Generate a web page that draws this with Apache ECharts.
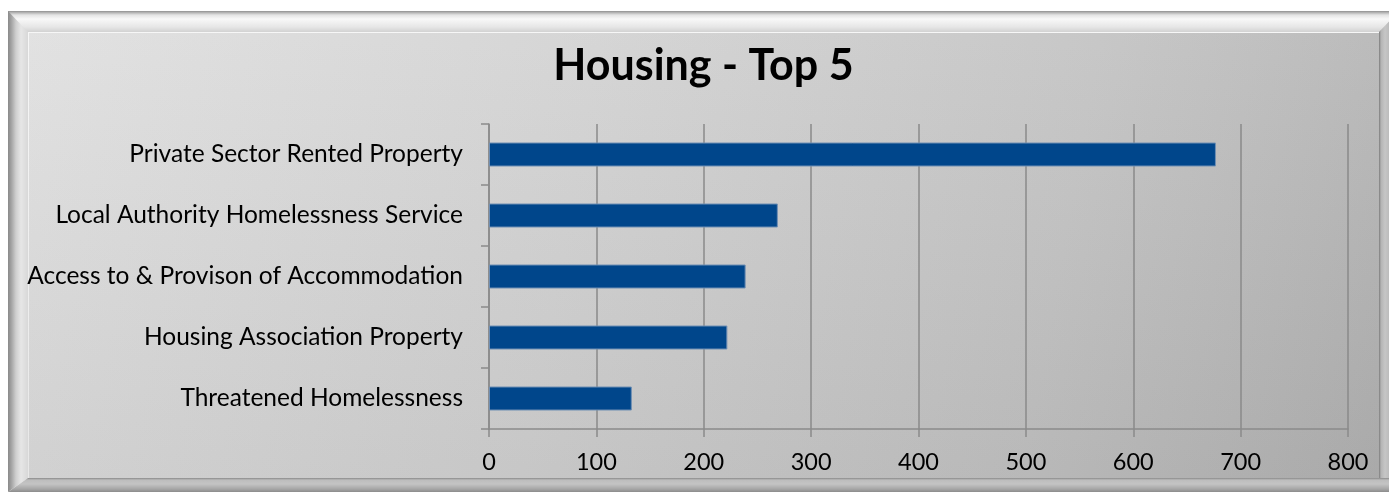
<!DOCTYPE html>
<html>
<head>
<meta charset="utf-8">
<script src="https://cdn.jsdelivr.net/npm/echarts@6/dist/echarts.min.js"></script>
<style>
  html, body { margin: 0; padding: 0; width: 1389px; height: 492px; overflow: hidden; background: #ffffff; position: relative; }
  .bevel { position: absolute; }
  #frameTop { left: 8px; top: 11px; width: 1400px; height: 21px;
    background: linear-gradient(to bottom, #8e8e8e 0px, #a8a8a8 1px, #e4e4e4 4px, #f8f8f8 8px, #e6e6e6 16px, #d2d2d2 21px); }
  #frameLeft { left: 8px; top: 11px; width: 20px; height: 500px;
    background: linear-gradient(to right, #8a8a8a 0px, #a0a0a0 3px, #cfcfcf 8px, #e6e6e6 13px, #d8d8d8 20px);
    clip-path: polygon(0 0, 100% 21px, 100% 467px, 0 481px); }
  #frameRight { left: 1379px; top: 11px; width: 20px; height: 500px;
    background: linear-gradient(to right, #7c7c7c 0px, #b4b4b4 2px, #c6c6c6 6px, #bcbcbc 10px);
    clip-path: polygon(0 21px, 100% 0, 100% 100%, 0 100%); }
  #frameBottom { left: 8px; top: 478px; width: 1400px; height: 20px;
    background: linear-gradient(to bottom, #8a8a8a 0px, #bdbdbd 2px, #c4c4c4 6px, #a6a6a6 11px, #8c8c8c 14px);
    clip-path: polygon(0 14px, 20px 0, 100% 0, 100% 100%, 0 100%); }
  #panel { position: absolute; left: 28px; top: 32px; width: 1351px; height: 446px;
    background: linear-gradient(100deg, #e0e0e0 0%, #d3d3d3 40%, #c4c4c4 75%, #b4b4b4 100%);
    box-shadow: inset 1px 1px 0 #f6f6f6; }
  #panel::after { content: ""; position: absolute; left: 0; top: 0; right: 0; bottom: 0;
    background: linear-gradient(to bottom, rgba(255,255,255,0.06) 0%, rgba(0,0,0,0.06) 100%); }
  /* wide drawing surface, centred on the inner panel so the title centres on it */
  #chart { position: absolute; left: 0px; top: 32px; width: 1407px; height: 446px; }
</style>
</head>
<body>
<div class="bevel" id="frameTop"></div>
<div class="bevel" id="frameLeft"></div>
<div class="bevel" id="frameRight"></div>
<div class="bevel" id="frameBottom"></div>
<div id="panel"></div>
<div id="chart"></div>
<script>
// Complaint categories, top to bottom
const categories = [
  'Private Sector Rented Property',
  'Local Authority Homelessness Service',
  'Access to & Provison of Accommodation',
  'Housing Association Property',
  'Threatened Homelessness'
];
// Number of cases per category
const values = [677, 269, 239, 222, 133];
// Value axis ticks: 0, 100, ... 800
const valueMin = 0;
const valueMax = 800;
const valueStep = 100;

const FONT = 'Lato, "Open Sans", sans-serif';
const chart = echarts.init(document.getElementById('chart'), null, { renderer: 'canvas' });

chart.setOption({
  backgroundColor: 'transparent',
  animation: false,
  title: {
    text: 'Housing - Top 5',
    left: 'center',
    top: 8,
    textStyle: { fontFamily: FONT, fontWeight: 'bold', fontSize: 43, color: '#000000' }
  },
  grid: { left: 489, right: 59, top: 92, bottom: 49, containLabel: false, outerBoundsMode: 'none' },
  xAxis: {
    type: 'value',
    min: valueMin,
    max: valueMax,
    interval: valueStep,
    axisLine: { show: true, lineStyle: { color: '#8a8a8a', width: 1.5 } },
    axisTick: { show: true, length: 8, lineStyle: { color: '#8a8a8a', width: 1.5 } },
    splitLine: { show: true, lineStyle: { color: '#8a8a8a', width: 1.5 } },
    axisLabel: { margin: 21, fontFamily: FONT, fontSize: 23.5, color: '#000000' }
  },
  yAxis: {
    type: 'category',
    inverse: true,
    data: categories,
    axisLine: { show: true, lineStyle: { color: '#8a8a8a', width: 1.5 } },
    axisTick: { show: true, length: 8, lineStyle: { color: '#8a8a8a', width: 1.5 } },
    axisLabel: { margin: 26, fontFamily: FONT, fontSize: 24.5, color: '#000000' }
  },
  series: [{
    type: 'bar',
    data: values,
    barWidth: 24,
    itemStyle: { color: '#00468b', borderColor: '#6f8fb4', borderWidth: 1 }
  }]
});
</script>
</body>
</html>
